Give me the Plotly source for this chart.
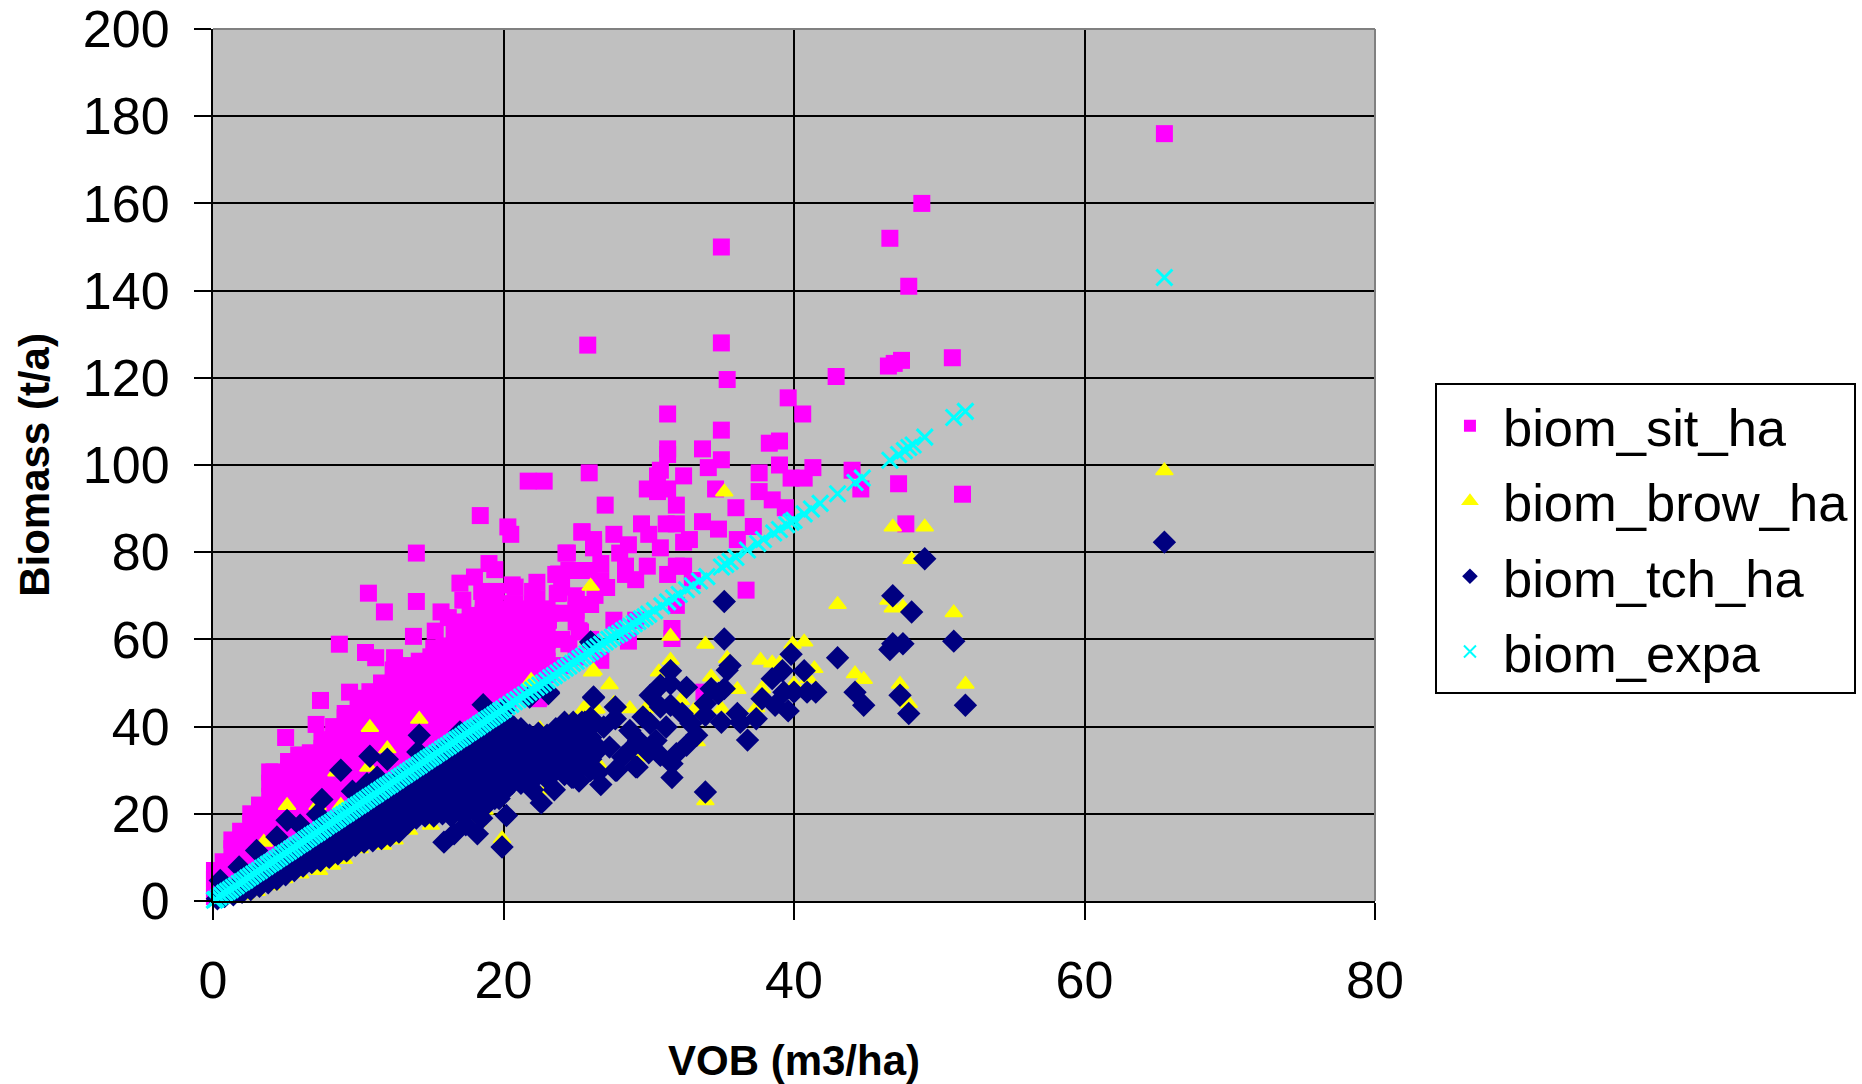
import plotly.graph_objects as go

x_ticks = [0, 20, 40, 60, 80]
y_ticks = [0, 20, 40, 60, 80, 100, 120, 140, 160, 180, 200]
series_names = ["biom_sit_ha", "biom_brow_ha", "biom_tch_ha", "biom_expa"]
x_title = "VOB (m3/ha)"
y_title = "Biomass (t/a)"

sit_rows = [
    (0.1, [1, 3, 5, 7]), (0.7, [2, 4, 7, 9]), (1.3, [3, 6, 9, 12, 14]), (1.9, [5, 8, 11, 14, 16]),
    (2.6, [6, 9, 12, 15, 18, 20]), (3.2, [8, 11, 14, 17, 20, 22]), (3.9, [9, 12, 15, 18, 21, 24, 27, 29.6]),
    (4.5, [10, 13, 16, 19, 22, 25, 28]), (5.2, [12, 15, 18, 21, 24, 27, 30, 32]),
    (5.9, [14, 17, 20, 23, 26, 29, 32, 33.5]), (6.7, [15, 18, 21, 24, 27, 30, 33, 34]),
    (7.5, [17, 20, 23, 26, 29, 32, 35, 37]), (8.3, [19, 22, 25, 28, 31, 34, 37, 40]),
    (9.1, [21, 24, 27, 30, 33, 36, 39, 42, 43]), (10, [23, 26, 29, 32, 35, 38, 41, 44, 46.5]),
    (10.8, [25, 28, 31, 34, 37, 40, 43, 46, 48]), (11.6, [27, 30, 33, 36, 39, 42, 45, 48, 50]),
    (12.4, [29, 32, 35, 38, 41, 44, 47, 50, 53]), (13.3, [31, 34, 37, 40, 43, 46, 49, 52, 54]),
    (14.2, [32, 35, 38, 41, 44, 47, 50, 53, 55]), (15, [34, 37, 40, 43, 46, 49, 52, 55, 56]),
    (15.9, [36, 39, 42, 45, 48, 51, 54, 57, 58.5]), (16.8, [38, 41, 44, 47, 50, 53, 56, 59, 61, 64]),
    (17.7, [40, 43, 46, 49, 52, 55, 58, 61, 64, 65.5]), (18.6, [42, 45, 48, 51, 54, 57, 60, 63, 66, 68]),
    (19.4, [44, 47, 50, 53, 56, 59, 62, 65, 68, 70]), (20.3, [46, 49, 52, 55, 58, 61, 64, 67]),
    (21, [48, 51, 54, 57, 60, 63, 66]), (22, [50, 53, 56, 59, 62, 65, 68, 71]), (23, [52, 55, 58, 61, 64, 67]),
    (24, [54, 60, 66, 72]), (25, [56, 64, 70]), (26, [60, 68]),
]
sit_points = [
    (65.5, 176), (48.8, 160), (46.6, 152), (35, 150), (47.9, 141), (25.8, 127.5), (35, 128), (35.4, 119.6),
    (42.9, 120.3), (39.6, 115.4), (40.6, 111.7), (31.3, 111.7), (35, 108), (38.3, 105), (39, 105.5),
    (46.5, 122.7), (46.9, 123.3), (47.4, 124), (50.9, 124.6), (31.3, 103.7), (31.3, 102.4), (33.7, 103.7),
    (35, 101.2), (34.1, 99.4), (39, 100), (41.3, 99.4), (37.6, 98.2), (25.9, 98.2), (21.7, 96.3), (22.8, 96.3),
    (30.8, 98.8), (30.6, 97.5), (32.4, 97.5), (44, 98.8), (44.6, 94.5), (47.2, 95.7), (51.6, 93.3), (39.8, 97),
    (40.7, 97), (34.6, 94.5), (29.9, 94.5), (30.6, 93.9), (31.3, 94.5), (37.6, 93.9), (38.5, 92), (39.4, 90.2),
    (31.9, 90.8), (27, 90.8), (36, 90.2), (33.7, 87), (34.8, 85.3), (37.2, 85.9), (47.7, 86.5), (29.5, 86.5),
    (31.2, 86.5), (31.9, 86.5), (30, 84.1), (25.4, 84.7), (27.6, 84.1), (26.2, 82.9), (26.2, 81), (28.6, 81.7),
    (30.8, 81), (32.4, 82.3), (32.8, 82.9), (36.1, 82.9), (24.3, 79.8), (28, 79.8), (26.7, 77.4), (29.9, 76.8),
    (28.4, 76.8), (28.4, 74.9), (31.9, 76.8), (32.4, 76.8), (31.3, 74.9), (29.1, 73.7), (33, 73.5), (23.6, 74.9),
    (24.5, 75.8), (25, 75.8), (25.9, 75.8), (27.1, 71.9), (26.7, 73.5), (36.7, 71.3), (20.6, 72.5), (22.3, 73.1),
    (23.8, 70.6), (25, 69.3), (25, 66.7), (26.3, 70.1), (22.3, 69.3), (20.8, 68.2), (21.6, 67), (23.2, 66),
    (27.6, 64.4), (29.1, 64.4), (31.6, 62.5), (31.6, 60.2), (28.6, 59.6), (25.2, 62), (24.5, 59), (23, 59.8),
    (21.6, 59), (20.2, 62.8), (31.9, 67.8), (26.7, 55.2), (21.9, 52.1), (22.5, 46.8), (33.8, 47.9),
    (20.3, 85.8), (20.5, 84.1), (18.4, 88.4), (14, 79.8), (24.4, 79.8), (19, 77.4), (19.4, 76), (18, 74.3),
    (17, 72.9), (10.7, 70.6), (11.8, 66.3), (14, 68.7), (15.7, 66.3), (8.7, 58.9), (13.8, 60.7), (15.3, 61.9),
    (10.5, 57), (11.2, 55.8), (12.5, 55.8), (9.4, 47.9), (7.4, 46), (7.1, 40.5), (5, 37.5), (4.2, 29.6),
    (23.8, 75), (25.4, 84.6), (26.2, 82), (23.7, 70.5), (20.8, 72), (20.6, 68.2), (21.6, 66.7), (23, 59.8),
    (25.3, 61.7), (21.1, 59.4), (22.3, 65.9), (23.1, 64.4), (20.8, 52), (22, 52), (22.4, 46.4), (17.2, 69),
    (18.5, 71), (19.5, 71), (16.6, 62), (16.2, 65), (15.2, 58), (20.8, 56), (21.3, 63), (22.4, 62),
]

brow_points = [
    (65.5, 98.7), (35.2, 93.8), (46.8, 85.8), (49, 85.8), (48.1, 78.3), (26, 72.2), (43, 68), (51, 66.1),
    (46.8, 67.2), (47.5, 67.4), (46.5, 69), (31.5, 60.7), (33.9, 58.9), (39.9, 58.9), (40.7, 59.4), (35.4, 55.6),
    (37.7, 55.2), (38.5, 54.6), (31.5, 55.2), (26.2, 52.8), (30.7, 52.5), (34.3, 51.4), (39, 54.4), (41.4, 53.3),
    (44.2, 52.1), (44.8, 50.8), (47.3, 49.7), (51.8, 49.7), (47.9, 45.3), (27.3, 49.6), (27.6, 45.3), (28.7, 44.1),
    (25.6, 44.1), (26.4, 44.1), (36.1, 48.5), (37.8, 48.7), (40, 49.8), (41, 51), (35, 44.1), (33.1, 43.7),
    (32.2, 46), (37.4, 44.3), (29.8, 44.1), (24.5, 41), (22.5, 38.4), (26.6, 31.1), (29.3, 33), (33.3, 36.5),
    (21.9, 50.6), (33.9, 23), (5.1, 21.9), (3.5, 13.5), (10.8, 39.8), (14.2, 41.7), (12, 34.9), (10.7, 30.7),
    (21.9, 50.2), (26.1, 52.5), (25.5, 44), (26.3, 44), (24.5, 41), (22.5, 39.5), (23.2, 35.3), (18.2, 18.1),
    (19.9, 14.3), (22.9, 25.4), (20.9, 32.3), (19.8, 39.1), (20, 38), (7.2, 21.9), (8.8, 21.9), (8.5, 29.6),
    (17.2, 20.6), (18.7, 20.8), (10.1, 12), (11.7, 12.8), (8.2, 8.2), (7.3, 7), (4.9, 5.1), (2.2, 1.3),
    (13.5, 16.2), (15, 17.4), (16.8, 19.6), (1, 0.5), (3, 2.2), (4, 3.5), (6, 6.2), (9, 9.5), (12.5, 14),
]

tch_rows = [
    (0.3, [0.5]), (0.8, [1, 1.7]), (1.4, [1.4, 2.8]), (2, [2, 3.9]), (2.6, [2.6, 4.5, 5.5]), (3.2, [3.4, 5.2, 7]),
    (3.8, [4.2, 6, 8]), (4.4, [5, 7, 9.3]), (5, [6, 8, 10.8]), (5.6, [7, 9.2, 12]), (6.2, [8, 10, 12.4]),
    (6.8, [8.8, 11, 13.2, 14.6]), (7.4, [9.3, 11.5, 13.8, 16]), (8, [10, 12.2, 14.4, 17]),
    (8.6, [10.8, 13, 15.4, 18.5]), (9.2, [11.5, 13.8, 16, 18.5, 20]), (9.8, [12.7, 15, 17.2, 19.5, 21.5]),
    (10.4, [13.5, 15.8, 18, 20.5, 22.8]), (11, [13.8, 16, 18.2, 20.5, 23, 24]),
    (11.6, [14.3, 16.5, 19, 21, 23.5, 25.5]), (12.2, [15, 17.2, 19.5, 21.8, 24, 26.6]),
    (12.8, [15.8, 18, 20.2, 22.5, 24.8, 28]), (13.4, [17.8, 20, 22, 24.5, 27, 29.3]),
    (14, [19, 21, 23, 25.5, 28, 30.6]), (14.6, [19.5, 22, 24, 26.3, 28.7, 32]),
    (15.2, [19.5, 21.8, 24, 26.5, 29, 31, 33.2]), (15.8, [20, 22.2, 24.5, 27, 29.5, 32, 34.5]),
    (16.4, [19.5, 22, 24.5, 27, 29.5, 32, 35.8]), (17, [20.5, 23, 25.5, 28, 30.5, 33, 35.5, 37.2]),
    (17.6, [21, 23.5, 26, 28.5, 31, 33.5, 36, 38.5]), (18.2, [21.5, 24, 26.5, 29, 31.5, 34, 36.5, 39.8]),
    (18.8, [22, 24.5, 27, 29.5, 32, 34.5, 37, 41]), (19.4, [23.5, 26, 28.5, 31, 33.5, 36, 38.5, 42.4]),
    (20, [25, 27.5, 30, 32.5, 35, 37.5, 40, 43.7]), (20.6, [27, 29.5, 32, 34.5, 37, 39.9]),
    (21.2, [27, 29.5, 32, 34.5, 37, 39.5]), (21.8, [28, 30.5, 33, 35.5, 38]), (22.4, [29, 31.5, 34, 36.5, 38.5]),
    (23, [28, 30.5, 33, 35.5, 38]), (23.6, [30, 32.5, 35, 37.5, 39.5]), (24.2, [29, 31.5, 34, 36.5, 39, 41]),
    (24.8, [28.4, 31, 33.5, 36, 38.5, 41]), (25.4, [31, 33.5, 36, 38.5, 41]), (26, [30, 32.5, 35, 37.5, 40, 42]),
]
tch_points = [
    (65.5, 82.3), (49, 78.5), (46.8, 70), (48.1, 66.3), (35.2, 68.7), (35.2, 60.1), (46.8, 59), (47.5, 59),
    (46.6, 57.7), (51, 59.6), (43, 55.8), (39.8, 56.6), (35.6, 54), (35.4, 52.9), (39.2, 52.8), (38.5, 51),
    (40.7, 52.8), (44.2, 47.9), (44.8, 44.9), (47.3, 47.2), (47.9, 43), (51.8, 44.9), (39.3, 47.9), (40, 47.9),
    (40.9, 47.9), (41.5, 47.9), (37.8, 46.4), (38.7, 44.9), (39.6, 43.6), (36.1, 43), (37.4, 41.8), (36.3, 41),
    (35, 41), (36.8, 36.9), (33.9, 45.3), (33.9, 42.6), (32.6, 49), (31.5, 52.8), (34.3, 48.7), (34.8, 47.6),
    (35.2, 48.7), (26.2, 46.6), (26.1, 59), (23.1, 47.9), (20.6, 39.9), (30.1, 47.2), (30.8, 49.5), (31.5, 49.8),
    (30.8, 44.5), (31.5, 44.9), (32.3, 43), (32.9, 40.7), (33.3, 38), (32.6, 35.7), (31.9, 33.8), (31.6, 31.5),
    (31.2, 39.9), (30.1, 40.7), (29.6, 42.2), (27.7, 41.8), (27.7, 44.5), (28.7, 39.1), (29.3, 36.8), (30.5, 36.8),
    (25.6, 41), (26.9, 39.9), (26.6, 34.9), (24.5, 38.4), (24.9, 36), (23.7, 36), (22.5, 36.5), (27.3, 35.3),
    (25.7, 37.6), (29.2, 30.7), (27.8, 30), (30.8, 33.4), (30, 34), (26.7, 26.7), (27.7, 30), (29.1, 30.8),
    (31.6, 28.3), (33.9, 25), (18.6, 45), (14.2, 38), (14.1, 34.2), (12, 32.5), (10.8, 33.2), (8.8, 30),
    (9.6, 25.2), (7.5, 23.3), (7.2, 19.9), (5.1, 18.5), (4.4, 14.7), (11.3, 28.4), (10.6, 26.9), (6, 17.4),
    (3, 11.6), (1.8, 7.8), (0.5, 4.7), (17, 38.8), (26, 59.4), (26.2, 46.8), (23.1, 47.6), (20.7, 39.9),
    (25.6, 40.7), (21.8, 46.8), (15.9, 13.5), (16.6, 15.4), (18.2, 15.4), (19.9, 12.4), (20.2, 19.6), (22.6, 22.5),
    (22, 25.5), (24.7, 28.4), (19.7, 23.5), (18.5, 19), (17.4, 17.5), (28.2, 33), (28.8, 35), (26.5, 29.5),
    (25.2, 27.5), (23.5, 25.5),
]

expa_points = [
    (0.1, 0.2), (0.2, 0.4), (0.4, 0.9), (0.6, 1.3), (0.8, 1.8), (1.0, 2.2), (1.2, 2.6), (1.4, 3.1), (1.6, 3.5),
    (1.8, 4.0), (2.0, 4.4), (2.2, 4.8), (2.4, 5.3), (2.6, 5.7), (2.8, 6.2), (3.0, 6.6), (3.2, 7.0), (3.4, 7.5),
    (3.6, 7.9), (3.8, 8.4), (4.0, 8.8), (4.2, 9.2), (4.4, 9.7), (4.6, 10.1), (4.8, 10.6), (5.0, 11.0), (5.2, 11.4),
    (5.4, 11.9), (5.6, 12.3), (5.8, 12.8), (6.0, 13.2), (6.2, 13.6), (6.4, 14.1), (6.6, 14.5), (6.8, 15.0),
    (7.0, 15.4), (7.2, 15.8), (7.4, 16.3), (7.6, 16.7), (7.8, 17.2), (8.0, 17.6), (8.2, 18.0), (8.4, 18.5),
    (8.6, 18.9), (8.8, 19.4), (9.0, 19.8), (9.2, 20.2), (9.4, 20.7), (9.6, 21.1), (9.8, 21.6), (10.0, 22.0),
    (10.2, 22.4), (10.4, 22.9), (10.6, 23.3), (10.8, 23.8), (11.0, 24.2), (11.2, 24.6), (11.4, 25.1), (11.6, 25.5),
    (11.8, 26.0), (12.0, 26.4), (12.2, 26.8), (12.4, 27.3), (12.6, 27.7), (12.8, 28.2), (13.0, 28.6), (13.2, 29.0),
    (13.4, 29.5), (13.6, 29.9), (13.8, 30.4), (14.0, 30.8), (14.2, 31.2), (14.4, 31.7), (14.6, 32.1), (14.8, 32.6),
    (15.0, 33.0), (15.2, 33.4), (15.4, 33.9), (15.6, 34.3), (15.8, 34.8), (16.0, 35.2), (16.2, 35.6), (16.4, 36.1),
    (16.6, 36.5), (16.8, 37.0), (17.0, 37.4), (17.2, 37.8), (17.4, 38.3), (17.6, 38.7), (17.8, 39.2), (18.0, 39.6),
    (18.2, 40.0), (18.4, 40.5), (18.6, 40.9), (18.8, 41.4), (19.0, 41.8), (19.2, 42.2), (19.4, 42.7), (19.6, 43.1),
    (19.8, 43.6), (20.0, 44.0), (20.25, 44.6), (20.5, 45.1), (20.75, 45.7), (21.0, 46.2), (21.25, 46.8), (21.5, 47.3),
    (21.75, 47.9), (22.0, 48.4), (22.25, 49.0), (22.5, 49.5), (22.75, 50.0), (23.0, 50.6), (23.25, 51.2), (23.5, 51.7),
    (23.75, 52.3), (24.0, 52.8), (24.25, 53.4), (24.5, 53.9), (24.75, 54.5), (25.0, 55.0), (25.25, 55.6), (25.5, 56.1),
    (25.75, 56.7), (26.0, 57.2), (26.25, 57.8), (26.5, 58.3), (26.75, 58.9), (27.0, 59.4), (27.25, 60.0), (27.5, 60.5),
    (27.75, 61.0), (28.0, 61.4), (28.25, 62.0), (28.5, 62.5), (28.75, 63.0), (29.0, 63.6), (29.25, 64.1), (29.5, 64.7),
    (29.75, 65.2), (30.0, 65.8), (30.4, 66.6), (30.9, 67.7), (31.3, 68.6), (31.7, 69.5), (32.1, 70.3), (32.6, 71.4),
    (33.0, 72.3), (33.5, 73.4), (34.0, 74.4), (35.0, 76.6), (35.3, 77.2), (35.6, 77.9), (36.0, 78.8), (36.8, 80.5),
    (37.5, 82.0), (37.9, 82.9), (38.6, 84.4), (39.0, 85.2), (39.5, 86.3), (39.8, 86.9), (40.0, 87.3), (40.7, 88.8),
    (41.2, 89.9), (41.8, 91.2), (43.0, 93.4), (44.2, 96.0), (44.7, 97.0), (46.6, 101.1), (47.2, 102.4), (47.6, 103.3),
    (47.9, 104.0), (48.2, 104.6), (49.0, 106.4), (51.0, 110.9), (51.8, 112.3), (65.5, 143.0),
]


def unpack(rows, points):
    xs = [x for x, ys in rows for _ in ys] + [p[0] for p in points]
    ys_out = [y for _, ys in rows for y in ys] + [p[1] for p in points]
    return xs, ys_out


sit_x, sit_y = unpack(sit_rows, sit_points)
brow_x, brow_y = unpack([], brow_points)
tch_x, tch_y = unpack(tch_rows, tch_points)
expa_x, expa_y = unpack([], expa_points)

FONT = "Liberation Sans, Arial, sans-serif"
fig = go.Figure()
fig.add_trace(go.Scatter(x=sit_x, y=sit_y, mode="markers", name=series_names[0], cliponaxis=False, legendgroup="a",
                         marker=dict(symbol="square", size=17, color="#FF00FF", line=dict(width=0))))
fig.add_trace(go.Scatter(x=brow_x, y=brow_y, mode="markers", name=series_names[1], cliponaxis=False, legendgroup="b",
                         marker=dict(symbol="triangle-up", size=15, color="#FFFF00",
                                     line=dict(width=1.5, color="#FFFF00"))))
fig.add_trace(go.Scatter(x=tch_x, y=tch_y, mode="markers", name=series_names[2], cliponaxis=False, legendgroup="c",
                         marker=dict(symbol="diamond", size=18, color="#000080", line=dict(width=0))))
fig.add_trace(go.Scatter(x=expa_x, y=expa_y, mode="markers", name=series_names[3], cliponaxis=False, legendgroup="d",
                         marker=dict(symbol="x-thin", size=16, color="#00FFFF",
                                     line=dict(width=3, color="#00FFFF"))))

axis_common = dict(
    showgrid=True, gridcolor="black", gridwidth=2, zeroline=False,
    showline=True, linecolor="black", linewidth=2,
    ticks="outside", ticklen=17, tickwidth=2, tickcolor="black",
    tickfont=dict(family=FONT, size=52, color="black"),
)
fig.update_xaxes(range=[0, 80], tickvals=x_ticks, ticktext=[str(v) for v in x_ticks], ticklabelstandoff=16,
                 title=dict(text=f"<b>{x_title}</b>", font=dict(family=FONT, size=42, color="black"), standoff=37),
                 **axis_common)
fig.update_yaxes(range=[0, 200], tickvals=y_ticks, ticktext=[str(v) for v in y_ticks], ticklabelstandoff=14,
                 title=dict(text=f"<b>{y_title}</b>", font=dict(family=FONT, size=42, color="black"), standoff=20),
                 **axis_common)

fig.add_shape(type="line", xref="paper", yref="paper", x0=0, x1=1, y0=1, y1=1, line=dict(color="#808080", width=2))
fig.add_shape(type="line", xref="paper", yref="paper", x0=1, x1=1, y0=0, y1=1, line=dict(color="#808080", width=2))

fig.update_layout(
    width=1862, height=1084, autosize=False,
    paper_bgcolor="white", plot_bgcolor="#C0C0C0",
    margin=dict(l=212.7, r=487.3, t=28.5, b=183.3, autoexpand=False),
    font=dict(family=FONT, color="black"),
    legend=dict(x=1.0516, xanchor="left", y=0.5939, yanchor="top", bgcolor="white", bordercolor="black",
                borderwidth=2, font=dict(family=FONT, size=52.5, color="black"), itemsizing="constant", itemwidth=56,
                traceorder="grouped", tracegroupgap=4),
)

fig.write_html("out.html", config={"displayModeBar": False},
               post_script="document.body.style.margin='0';document.body.style.overflow='hidden';")
